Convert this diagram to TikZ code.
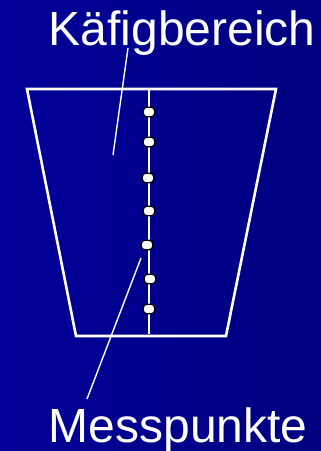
\documentclass[tikz,border=0pt]{standalone}
\usepackage{fontspec}
\setmainfont{Liberation Sans}
\usetikzlibrary{positioning,calc}
\definecolor{bgleft}{HTML}{000099}
\definecolor{bgright}{HTML}{000080}
\tikzset{
  cage/.style={draw=white, line width=2.6pt, line join=miter},
  probe/.style={draw=white, line width=2pt},
  leader/.style={draw=white, line width=1.4pt},
  dot/.style={draw=black, fill=white, line width=1.4pt, rounded corners=3.5pt, minimum width=11.5pt, minimum height=9.5pt, inner sep=0pt},
  lbl/.style={text=white, inner sep=0pt, font=\fontsize{48}{52}\selectfont}
}
\begin{document}
\begin{tikzpicture}[x=1pt, y=-1pt]
\fill[left color=bgleft, right color=bgright] (0,0) rectangle (321,451);
\useasboundingbox (0,0) rectangle (321,451);
% cage outline
\draw[cage] (27,89) -- (276,89) -- (226,336) -- (76,336) -- cycle;
\coordinate (ptop) at (149,89);
\coordinate (pbot) at (149,334);
\draw[probe] (ptop) -- (pbot);
% measuring points
\foreach \i/\x/\y in {1/149/112, 2/149/142, 3/148/178, 4/149/211, 5/147/245, 6/150/279, 7/149/309}
  \node[dot] (m\i) at (\x,\y) {};
% labels
\node[lbl, anchor=base west] (kaefig) at (48.5,45) {Käfigbereich};
\node[lbl, anchor=base west] (mess) at (48.5,442) {Messpunkte};
\coordinate (k1) at (128,48);
\coordinate (k2) at (113,155);
\coordinate (p1) at (141,258);
\coordinate (p2) at (87,399);
\draw[leader] (k1) -- (k2);
\draw[leader] (p1) -- (p2);
\end{tikzpicture}
\end{document}
